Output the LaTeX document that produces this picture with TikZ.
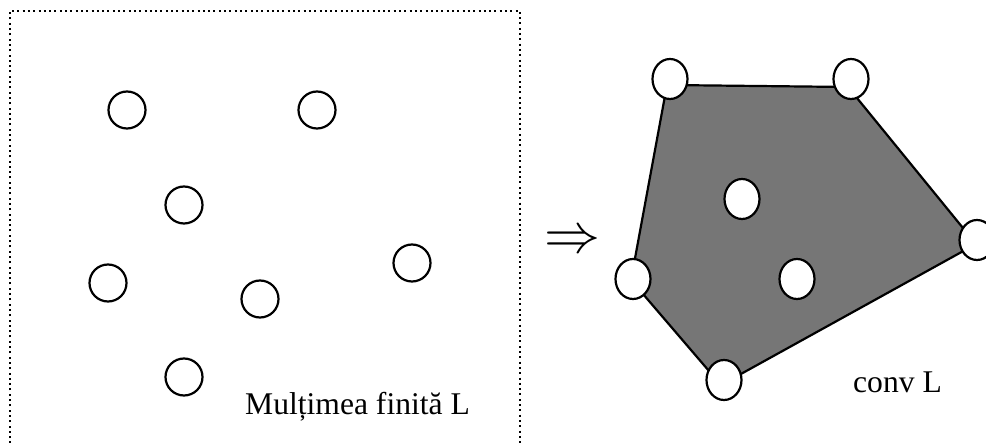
\documentclass[tikz,border=0pt]{standalone}
\usepackage{fontspec}
\setmainfont{Liberation Serif}
\usetikzlibrary{shapes.geometric}
\definecolor{hullgray}{RGB}{118,118,118}
\begin{document}
\begin{tikzpicture}[x=1pt,y=-1pt,
  pt/.style={circle,draw=black,line width=2.2pt,fill=white,minimum size=37pt,inner sep=0pt},
  hpt/.style={ellipse,draw=black,line width=2.2pt,fill=white,minimum width=35pt,minimum height=40pt,inner sep=0pt},
  lbl/.style={anchor=base west,inner sep=0pt,font=\fontsize{31.6}{36}\selectfont},
  framebox/.style={draw=black,line width=2pt,dash pattern=on 2pt off 3.3pt}]
\useasboundingbox (0,0) rectangle (986,443);
% left frame
\draw[framebox] (10,470) -- (10,11) -- (520,11) -- (520,470);
% left set
\node[pt] (p1) at (127,110) {};
\node[pt] (p2) at (317,110) {};
\node[pt] (p3) at (184,205) {};
\node[pt] (p4) at (108,283) {};
\node[pt] (p5) at (260,299) {};
\node[pt] (p6) at (412,263) {};
\node[pt] (p7) at (184,377) {};
\node[lbl] (t1) at (245,415) {Mulțimea finită L};
% arrow
\node[inner sep=0pt] (arr) at (572,242) {\scalebox{5.6}{$\Rightarrow$}};
% hull
\coordinate (va) at (667,85);
\coordinate (vb) at (848,87);
\coordinate (vc) at (976,244);
\coordinate (vd) at (721,385);
\coordinate (ve) at (631,280);
\draw[fill=hullgray,line width=2.2pt,line join=miter] (va) -- (vb) -- (vc) -- (vd) -- (ve) -- cycle;
\node[hpt] (qa) at (670,79) {};
\node[hpt] (qb) at (851,79) {};
\node[hpt] (qc) at (977,240) {};
\node[hpt] (qd) at (724,380) {};
\node[hpt] (qe) at (633,279) {};
\node[hpt] (qf) at (742,199) {};
\node[hpt] (qg) at (797,279) {};
\node[lbl] (t2) at (853,393) {conv L};
\end{tikzpicture}
\end{document}
